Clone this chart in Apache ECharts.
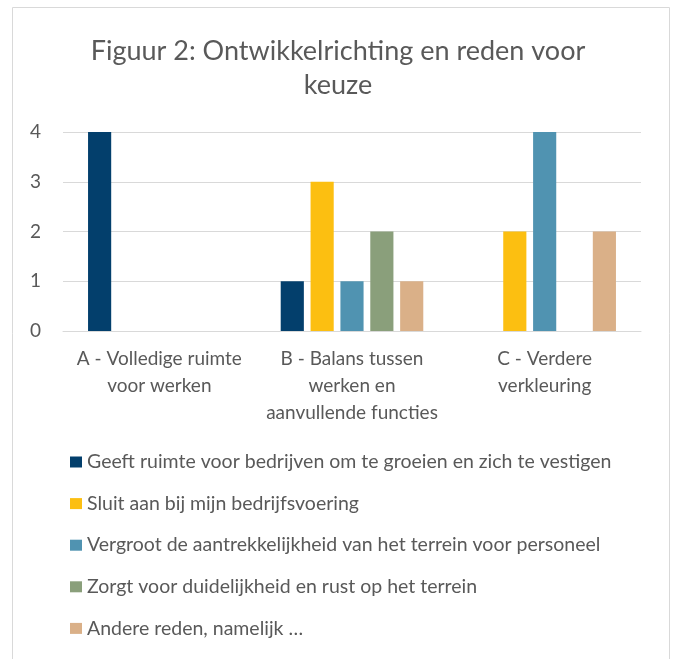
<!DOCTYPE html>
<html>
<head>
<meta charset="utf-8">
<script src="https://cdn.jsdelivr.net/npm/echarts@6/dist/echarts.min.js"></script>
<style>
  html, body { margin: 0; padding: 0; background: #fff; }
  #chart { width: 676px; height: 659px; }
</style>
</head>
<body>
<div id="chart"></div>
<script>
const categories = [
  'A - Volledige ruimte\nvoor werken',
  'B - Balans tussen\nwerken en\naanvullende functies',
  'C - Verdere\nverkleuring',
]
const seriesNames = [
  'Geeft ruimte voor bedrijven om te groeien en zich te vestigen',
  'Sluit aan bij mijn bedrijfsvoering',
  'Vergroot de aantrekkelijkheid van het terrein voor personeel',
  'Zorgt voor duidelijkheid en rust op het terrein',
  'Andere reden, namelijk \u2026',
]
const ruimte = [4, 1, 0]
const bedrijfsvoering = [0, 3, 2]
const aantrekkelijkheid = [0, 1, 4]
const duidelijkheid = [0, 2, 0]
const andere = [0, 1, 2]
const yTicks = [0, 1, 2, 3, 4]

const COLORS = ['#033f6c', '#fcbf11', '#5093b1', '#8a9f7b', '#dab088']
const TEXT = '#595959'
const FONT = 'Lato, sans-serif'

const chart = echarts.init(document.getElementById('chart'), null, { renderer: 'canvas' })

const seriesData = [ruimte, bedrijfsvoering, aantrekkelijkheid, duidelijkheid, andere]

chart.setOption({
  animation: false,
  color: COLORS,
  title: {
    text: 'Figuur 2: Ontwikkelrichting en reden voor\nkeuze',
    left: 'center',
    top: 29,
    textStyle: { color: TEXT, fontFamily: FONT, fontSize: 27, fontWeight: 'normal', lineHeight: 34 },
  },
  graphic: [{
    type: 'rect',
    shape: { x: 12.5, y: 7.5, width: 657, height: 700 },
    style: { fill: 'none', stroke: '#d9d9d9', lineWidth: 1 },
    silent: true,
  }],
  legend: {
    orient: 'vertical',
    left: 65,
    top: 447,
    itemGap: 21.6,
    itemWidth: 12,
    itemHeight: 11,
    icon: 'rect',
    data: seriesNames,
    textStyle: { color: TEXT, fontFamily: FONT, fontSize: 19.5, lineHeight: 20 },
  },
  grid: { left: 63, right: 35, top: 132, bottom: 328 },
  xAxis: {
    type: 'category',
    data: categories,
    axisLine: { lineStyle: { color: '#d9d9d9' } },
    axisTick: { show: false },
    axisLabel: { color: TEXT, fontFamily: FONT, fontSize: 19, lineHeight: 27, margin: 14, interval: 0 },
  },
  yAxis: {
    type: 'value',
    min: yTicks[0],
    max: yTicks[yTicks.length - 1],
    interval: 1,
    axisLine: { show: false },
    axisTick: { show: false },
    axisLabel: { color: TEXT, fontFamily: FONT, fontSize: 19, margin: 22 },
    splitLine: { lineStyle: { color: '#d9d9d9', width: 1 } },
  },
  series: seriesNames.map((name, i) => ({
    name,
    type: 'bar',
    data: seriesData[i],
    barGap: '29%',
    barCategoryGap: '26%',
  })),
})
</script>
</body>
</html>
